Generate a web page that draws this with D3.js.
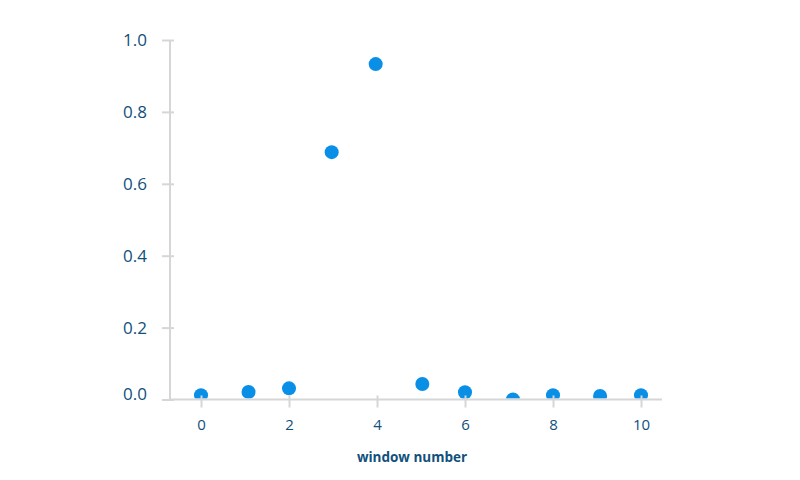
<!DOCTYPE html>
<html>
<head>
<meta charset="utf-8">
<script src="https://cdn.jsdelivr.net/npm/d3@7"></script>
<style>
  body { margin: 0; background: #fff; }
  svg { display: block; }
  text { font-family: "Open Sans", "Noto Sans", sans-serif; }
</style>
</head>
<body>
<svg id="chart" width="800" height="480"></svg>
<script>
const windowNumbers = [0, 1.08, 2, 2.97, 3.97, 5.03, 6, 7.09, 8, 9.07, 10];
const values = [0.012, 0.021, 0.031, 0.688, 0.933, 0.043, 0.02, 0.0, 0.012, 0.01, 0.012];
const xTicks = [0, 2, 4, 6, 8, 10];
const yTicks = [0, 0.2, 0.4, 0.6, 0.8, 1.0];
const xTitle = "window number";

const svg = d3.select("#chart");
const axisColor = "#d6d6d6";
const textColor = "#10507c";
const dotColor = "#0a8fe6";

const x = d3.scaleLinear().domain([0, 10]).range([201, 641]);
const y = d3.scaleLinear().domain([0, 1]).range([399.5, 40]);
const xLeft = 170, xRight = 662;

svg.append("defs").append("clipPath").attr("id", "plotclip")
  .append("rect").attr("x", xLeft).attr("y", 0).attr("width", xRight - xLeft).attr("height", y(0) - 1);

// points
svg.append("g").attr("clip-path", "url(#plotclip)")
  .selectAll("circle").data(values).join("circle")
  .attr("cx", (d, i) => x(windowNumbers[i]))
  .attr("cy", d => y(d))
  .attr("r", 7)
  .attr("fill", dotColor);

// y axis
const yAxis = svg.append("g").attr("transform", `translate(${xLeft},0)`)
  .call(d3.axisLeft(y).tickValues(yTicks).tickFormat(d3.format(".1f")).tickSize(8).tickPadding(15));
yAxis.select(".domain").remove();
yAxis.append("line").attr("x1", 0).attr("x2", 0).attr("y1", y(1)).attr("y2", y(0))
  .attr("stroke", axisColor).attr("stroke-width", 2);
yAxis.selectAll(".tick line").attr("stroke", axisColor).attr("stroke-width", 2).attr("x1", 4).attr("x2", -8);
yAxis.selectAll(".tick text").attr("fill", textColor).attr("font-size", 17)
  .attr("dy", d => d === 0 ? "-0.02em" : "0.32em");

// x axis
const xAxis = svg.append("g").attr("transform", `translate(0,${y(0)})`)
  .call(d3.axisBottom(x).tickValues(xTicks).tickFormat(d3.format("d")).tickSize(8).tickPadding(12));
xAxis.select(".domain").remove();
xAxis.insert("line", ":first-child").attr("x1", xLeft - 1).attr("x2", xRight).attr("y1", 0).attr("y2", 0)
  .attr("stroke", axisColor).attr("stroke-width", 2);
xAxis.selectAll(".tick line").attr("stroke", axisColor).attr("stroke-width", 2).attr("y1", -4).attr("y2", 8);
xAxis.selectAll(".tick text").attr("fill", textColor).attr("font-size", 15);

svg.append("text")
  .attr("x", (xLeft + xRight) / 2 - 4)
  .attr("y", 462)
  .attr("text-anchor", "middle")
  .attr("font-size", 13.5)
  .attr("font-weight", "bold")
  .attr("fill", textColor)
  .text(xTitle);

// axis lines drawn over points
svg.selectAll("g").filter(function() { return this.getAttribute("clip-path") === null; }).raise();
</script>
</body>
</html>
